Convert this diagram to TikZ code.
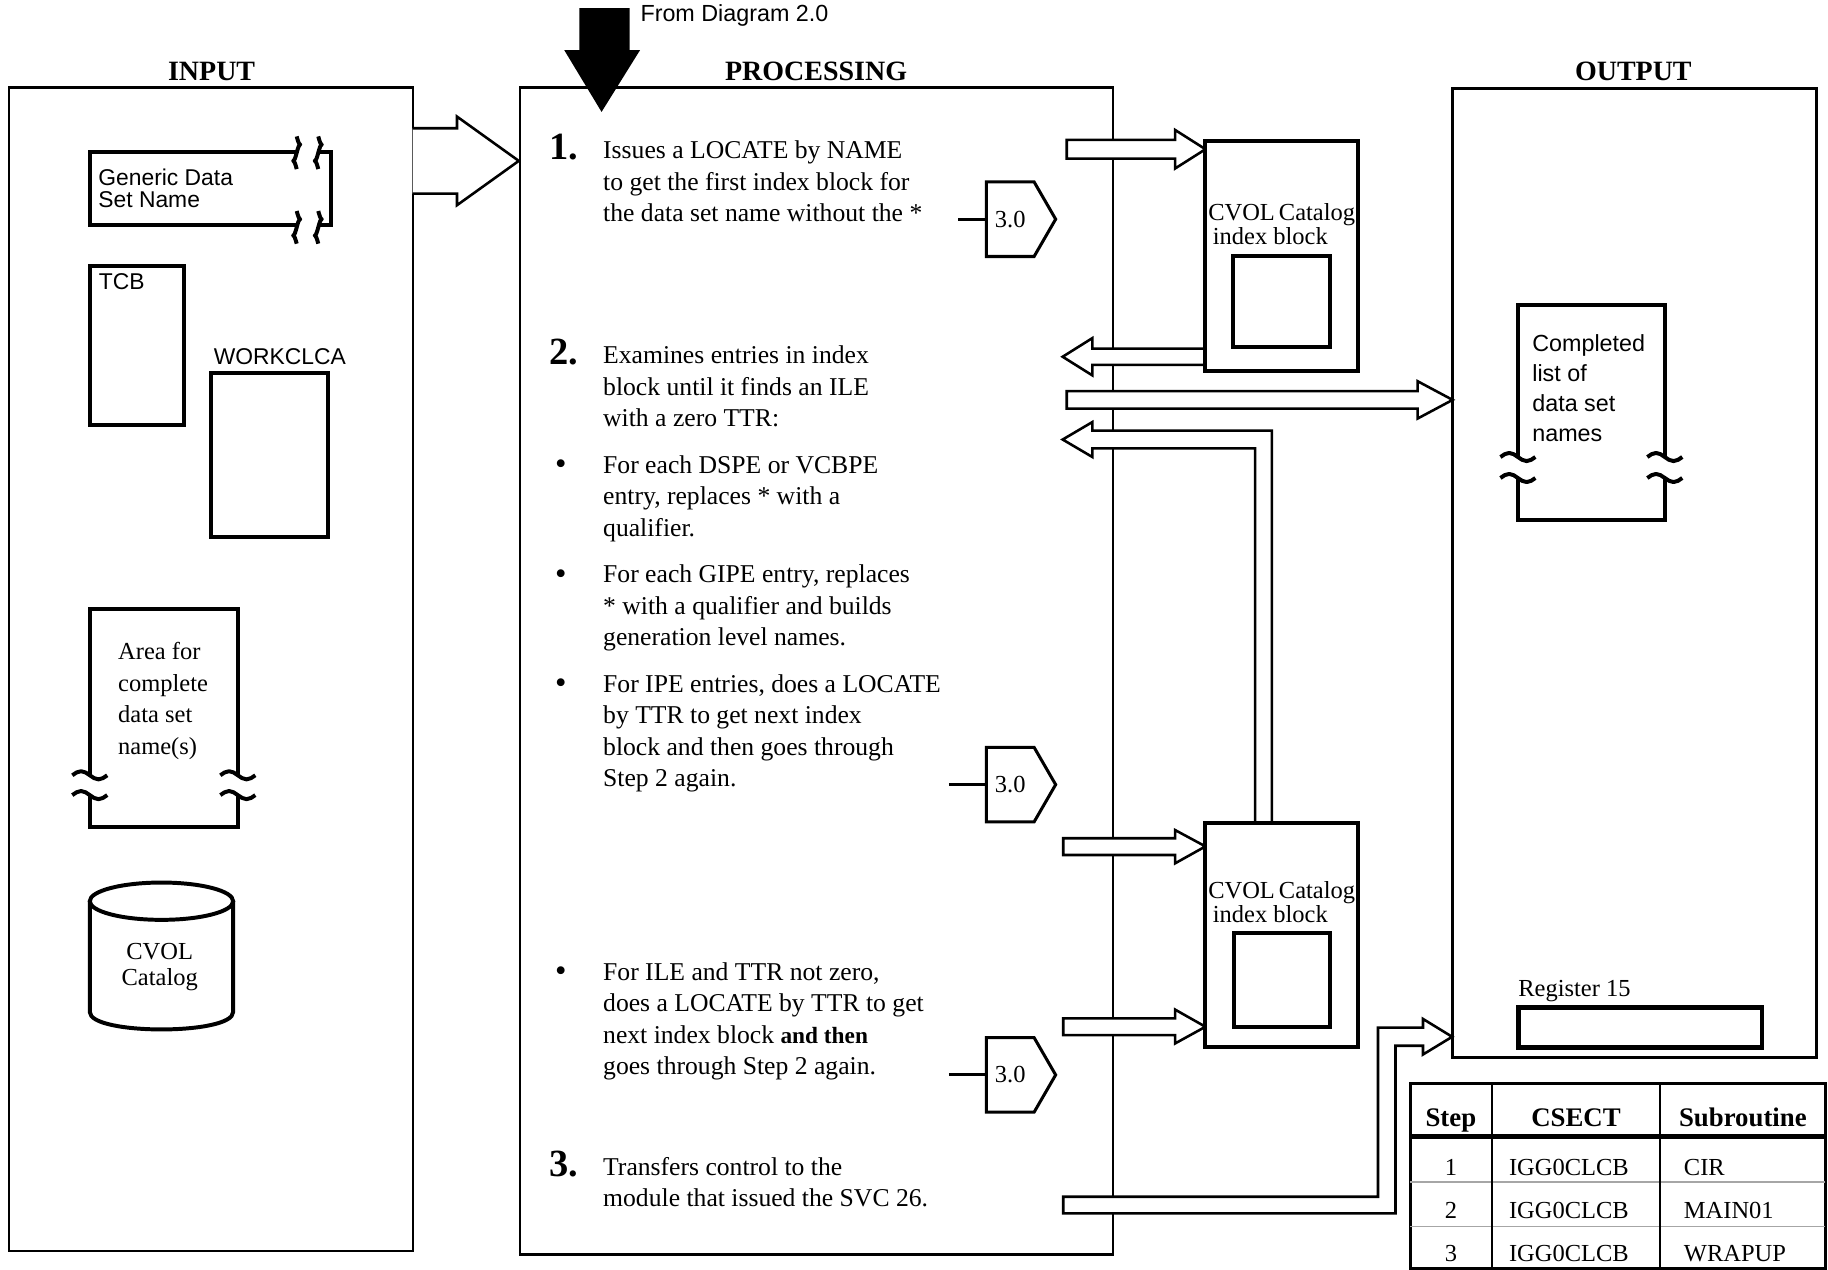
\documentclass[tikz,border=0pt]{standalone}
\usepackage{fontspec}
\setmainfont{Liberation Serif}
\setsansfont{Liberation Sans}
\usetikzlibrary{fit}
\tikzset{
  panel/.style={draw, line width=1pt, inner sep=0pt},
  tbox/.style={draw, line width=1.7pt, inner sep=0pt, fill=white},
  tline/.style={draw, line width=1.7pt, line join=miter},
  harrow/.style={draw, fill=white, line width=1.1pt, line join=miter, miter limit=20},
  body/.style={font=\fontsize{11}{13.5}\selectfont, anchor=base west, align=left, inner sep=0pt},
  stepnum/.style={font=\fontsize{16.5}{16.5}\selectfont\bfseries, anchor=base west, inner sep=0pt},
  bul/.style={font=\fontsize{14}{14}\selectfont, anchor=base, inner sep=0pt},
  heading/.style={font=\fontsize{12}{12}\selectfont\bfseries, anchor=base, inner sep=0pt},
  sanslbl/.style={font=\sffamily\fontsize{9.8}{9.6}\selectfont, anchor=base west, align=left, inner sep=0pt},
  seriflbl/.style={font=\fontsize{10.5}{10.5}\selectfont, anchor=base west, align=left, inner sep=0pt},
  pentline/.style={draw, line width=1.3pt, line join=miter},
  pentlabel/.style={font=\fontsize{10.5}{10.5}\selectfont, inner sep=0pt},
  thead/.style={font=\fontsize{11.5}{11.5}\selectfont\bfseries, anchor=base, inner sep=0pt},
  tcell/.style={font=\fontsize{10.5}{10.5}\selectfont, anchor=base, inner sep=0pt},
  tcellw/.style={font=\fontsize{10.5}{10.5}\selectfont, anchor=base west, inner sep=0pt},
  hw/.pic={\draw[tline, line join=round] (-15,0) sin (-7.5,-3.5) cos (0,0) sin (7.5,3.5) cos (15,0);},
  vw/.pic={\draw[tline, line join=round] (0,-14) sin (3,-7) cos (0,0) sin (-3,7) cos (0,14);},
  pent/.pic={
    \draw[pentline] (0,-32) -- (41,-32) -- (59.5,0) -- (41,32) -- (0,32) -- cycle;
    \node[pentlabel] at (20.5,0) {3.0};
    \coordinate (-w) at (0,0);
  }
}
\begin{document}
\begin{tikzpicture}[x=0.5pt, y=-0.5pt]
\useasboundingbox (0,0) rectangle (1568,1089);

% headings
\node[heading] (hin) at (181.5,69) {INPUT};
\node[heading] (hproc) at (700,69) {PROCESSING};
\node[heading] (hout) at (1401,69) {OUTPUT};

% panels
\node[panel, fit={(7.5,75)(354,1073)}] (input) {};
\node[panel, fit={(446,75)(954.5,1076)}] (proc) {};
\node[panel, fit={(1246,76)(1558,907)}] (output) {};

% entry arrow from diagram 2.0
\fill (497,7) -- (540,7) -- (540,43) -- (549,43) -- (516,96) -- (484,43) -- (497,43) -- cycle;
\node[font=\sffamily\fontsize{10}{10}\selectfont, anchor=base west, inner sep=0pt] (from) at (549,18.6) {From Diagram 2.0};

% ---------- INPUT contents
% Generic data set name
\draw[tline] (254.5,130) -- (77,130) -- (77,193) -- (254.5,193);
\draw[tline] (273,130) -- (284,130) -- (284,193) -- (273,193);
\pic at (254.5,131) {vw};
\pic at (273,131) {vw};
\pic at (254.5,195) {vw};
\pic at (273,195) {vw};
\node[sanslbl] (gen) at (84,177.9) {Generic Data\\Set Name};

% TCB, WORKCLCA
\node[tbox, fit={(77,228)(158,364.5)}] (tcb) {};
\node[sanslbl] (tcbl) at (84.5,248) {TCB};
\node[sanslbl, anchor=base] (workl) at (240,312.5) {WORKCLCA};
\node[tbox, fit={(181,320)(281,461)}] (work) {};

% Area for complete data set names
\draw[tline] (77,665) -- (77,522) -- (204,522) -- (204,665);
\draw[tline] (77,682) -- (77,709) -- (204,709) -- (204,682);
\pic at (77,665) {hw};
\pic at (77,682) {hw};
\pic at (204,665) {hw};
\pic at (204,682) {hw};
\node[font=\fontsize{10.5}{13.5}\selectfont, anchor=base west, align=left, inner sep=0pt] (area) at (101,647) {Area for\\complete\\data set\\name(s)};

% CVOL catalog cylinder
\draw[tline] (138.5,773) ellipse [x radius=61.5, y radius=16];
\draw[tline] (77,773) -- (77,868) .. controls (77,888) and (200,888) .. (200,868) -- (200,773);
\node[font=\fontsize{10.5}{11}\selectfont, anchor=base, align=center, inner sep=0pt] (cvol) at (137,845) {CVOL\\Catalog};

% ---------- PROCESSING text
\node[stepnum] (n1) at (471,137) {1.};
\node[body] (s1) at (517,190) {Issues a LOCATE by NAME\\to get the first index block for\\the data set name without the *};
\node[stepnum] (n2) at (471,313) {2.};
\node[body] (s2) at (517,366) {Examines entries in index\\block until it finds an ILE\\with a zero TTR:};
\node[bul] (b1) at (481,407) {\textbullet};
\node[body] (t1) at (517,460) {For each DSPE or VCBPE\\entry, replaces * with a\\qualifier.};
\node[bul] (b2) at (481,501) {\textbullet};
\node[body] (t2) at (517,554) {For each GIPE entry, replaces\\* with a qualifier and builds\\generation level names.};
\node[bul] (b3) at (481,595) {\textbullet};
\node[body] (t3) at (517,675) {For IPE entries, does a LOCATE\\by TTR to get next index\\block and then goes through\\Step 2 again.};
\node[bul] (b4) at (481,842) {\textbullet};
\node[body] (t4) at (517,922) {For ILE and TTR not zero,\\does a LOCATE by TTR to get\\next index block {\bfseries\fontsize{10}{13.5}\selectfont and then}\\goes through Step 2 again.};
\node[stepnum] (n3) at (471,1009) {3.};
\node[body] (s3) at (517,1035) {Transfers control to the\\module that issued the SVC 26.};

% off-page connectors
\pic (p1) at (846,188) {pent};
\pic (p2) at (846,673) {pent};
\pic (p3) at (846,922) {pent};
\coordinate (c1) at (822,188);
\coordinate (c2) at (814,673);
\coordinate (c3) at (814,922);
\draw[line width=1.3pt] (c1) -- (p1-w);
\draw[line width=1.3pt] (c2) -- (p2-w);
\draw[line width=1.3pt] (c3) -- (p3-w);

% ---------- hollow arrows
\draw[harrow] (354,110) -- (392,110) -- (392,100) -- (445,138) -- (392,176) -- (392,166) -- (354,166);
\draw[harrow] (915,120) -- (1008,120) -- (1008,111.5) -- (1034,128) -- (1008,144.5) -- (1008,136) -- (915,136) -- cycle;
\draw[harrow] (1034,299) -- (937,299) -- (937,290) -- (911.5,306) -- (937,322) -- (937,313) -- (1034,313);
\draw[harrow] (915,335.5) -- (1216,335.5) -- (1216,327) -- (1246,343) -- (1216,359) -- (1216,350.5) -- (915,350.5) -- cycle;
\draw[harrow] (1076.6,706) -- (1076.6,384.6) -- (937,384.6) -- (937,392) -- (911.5,377) -- (937,362) -- (937,369.4) -- (1091,369.4) -- (1091,706);
\draw[harrow] (912,719) -- (1008,719) -- (1008,712) -- (1034,726) -- (1008,740.5) -- (1008,733.4) -- (912,733.4) -- cycle;
\draw[harrow] (912,873.5) -- (1008,873.5) -- (1008,866) -- (1034,880.7) -- (1008,895) -- (1008,887.8) -- (912,887.8) -- cycle;
\draw[harrow] (912,1026.5) -- (1182,1026.5) -- (1182,881.5) -- (1220.6,881.5) -- (1220.6,874) -- (1245.6,889.3) -- (1220.6,904.5) -- (1220.6,897) -- (1197,897) -- (1197,1040.8) -- (912,1040.8) -- cycle;

% ---------- CVOL catalog index blocks
\node[tbox, fit={(1034,120.7)(1164.5,318)}] (blk1) {};
\node[tbox, fit={(1058,219.6)(1141,297.4)}] (blk1in) {};
\node[seriflbl] (blk1t) at (1036,210) {CVOL\,Catalog\\\hspace*{2pt}index block};
\node[tbox, fit={(1034,706)(1164.5,897.8)}] (blk2) {};
\node[tbox, fit={(1058.8,800.6)(1141,880.7)}] (blk2in) {};
\node[seriflbl] (blk2t) at (1036,791.6) {CVOL\,Catalog\\\hspace*{2pt}index block};

% ---------- OUTPUT contents
\draw[tline] (1302,392) -- (1302,262) -- (1428,262) -- (1428,392);
\draw[tline] (1302,410) -- (1302,446) -- (1428,446) -- (1428,410);
\pic at (1302,392) {hw};
\pic at (1302,410) {hw};
\pic at (1428,392) {hw};
\pic at (1428,410) {hw};
\node[font=\sffamily\fontsize{10}{12.8}\selectfont, anchor=base west, align=left, inner sep=0pt] (compl) at (1314,378.5) {Completed\\list of\\data set\\names};

\node[seriflbl] (regl) at (1302,855) {Register 15};
\node[draw, line width=2pt, inner sep=0pt, fit={(1302.5,864.4)(1511.4,898.7)}] (reg) {};

% ---------- table
\node[draw, line width=1.3pt, inner sep=0pt, fit={(1209.5,929.5)(1565.5,1088)}] (tbl) {};
\draw[line width=2pt] (1209.5,975) -- (1565.5,975);
\draw[gray!70, line width=0.6pt] (1209.5,1014) -- (1565.5,1014);
\draw[gray!70, line width=0.6pt] (1209.5,1052) -- (1565.5,1052);
\draw[line width=0.8pt] (1279.6,929.5) -- (1279.6,1088);
\draw[line width=0.8pt] (1424,929.5) -- (1424,1088);
\node[thead] (hstep) at (1244.5,966) {Step};
\node[thead] (hcsect) at (1351.8,966) {CSECT};
\node[thead] (hsub) at (1495,966) {Subroutine};
\node[tcell] (r1a) at (1244.5,1008) {1};
\node[tcellw] (r1b) at (1294,1008) {IGG0CLCB};
\node[tcellw] (r1c) at (1444,1008) {CIR};
\node[tcell] (r2a) at (1244.5,1045) {2};
\node[tcellw] (r2b) at (1294,1045) {IGG0CLCB};
\node[tcellw] (r2c) at (1444,1045) {MAIN01};
\node[tcell] (r3a) at (1244.5,1082) {3};
\node[tcellw] (r3b) at (1294,1082) {IGG0CLCB};
\node[tcellw] (r3c) at (1444,1082) {WRAPUP};
\end{tikzpicture}
\end{document}
